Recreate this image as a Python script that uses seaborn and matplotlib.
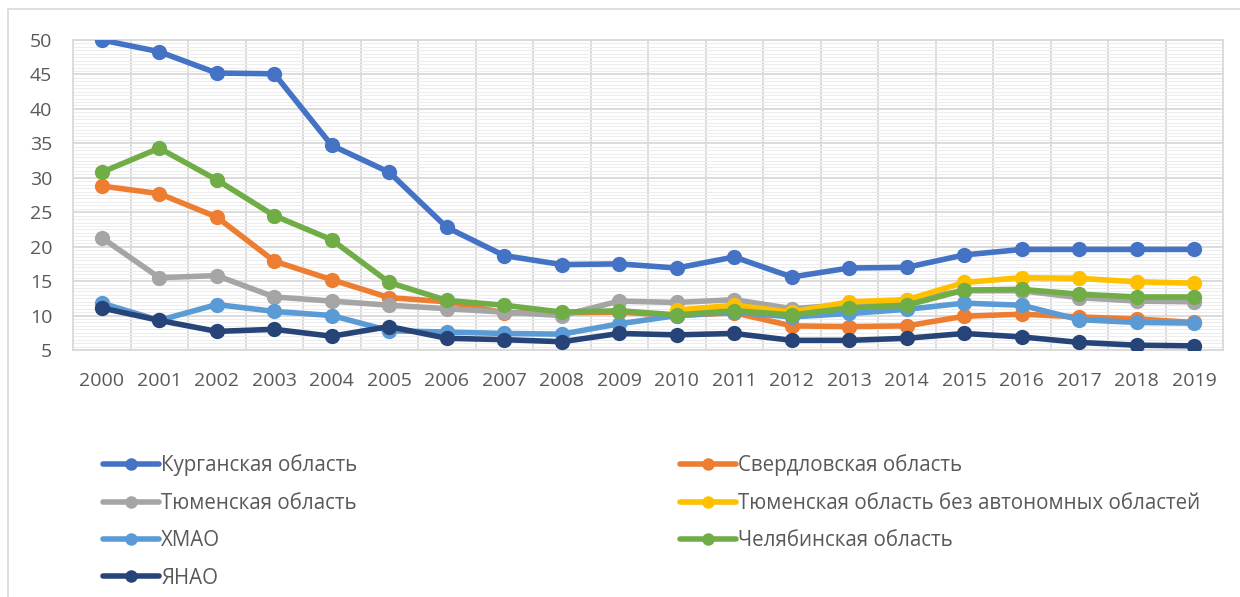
import numpy as np
import pandas as pd
import matplotlib
matplotlib.use("Agg")
import matplotlib.pyplot as plt
from matplotlib.lines import Line2D
from matplotlib.patches import Rectangle
import seaborn as sns

years = list(range(2000, 2020))

kurgan = [50.0, 48.3, 45.2, 45.1, 34.7, 30.8, 22.8, 18.7, 17.4, 17.5,
          16.9, 18.5, 15.6, 16.9, 17.0, 18.8, 19.6, 19.6, 19.6, 19.6]
sverdlovsk = [28.8, 27.7, 24.3, 17.9, 15.2, 12.6, 12.0, 10.4, 10.4, 10.5,
              10.0, 10.4, 8.5, 8.4, 8.5, 9.9, 10.2, 9.8, 9.5, 9.0]
tyumen = [21.3, 15.5, 15.8, 12.7, 12.1, 11.5, 11.0, 10.5, 10.0, 12.1,
          11.9, 12.3, 11.0, 11.6, 12.3, 13.6, 13.6, 12.6, 12.1, 12.0]
tyumen_no_ao = [np.nan] * 10 + [10.8, 11.5, 10.5, 12.0, 12.3, 14.8, 15.5, 15.4, 14.9, 14.7]
khmao = [11.8, 9.3, 11.6, 10.6, 10.0, 7.8, 7.6, 7.4, 7.3, 8.8,
         10.0, 10.5, 9.8, 10.3, 10.9, 11.8, 11.5, 9.4, 9.0, 8.9]
chelyabinsk = [30.8, 34.3, 29.7, 24.5, 21.0, 14.8, 12.2, 11.5, 10.5, 10.7,
               10.1, 10.7, 10.1, 11.1, 11.5, 13.7, 13.8, 13.1, 12.7, 12.7]
yanao = [11.1, 9.3, 7.7, 8.0, 7.0, 8.4, 6.7, 6.5, 6.2, 7.4,
         7.2, 7.4, 6.4, 6.4, 6.7, 7.4, 6.9, 6.1, 5.7, 5.6]

names = ["Курганская область", "Свердловская область", "Тюменская область",
         "Тюменская область без автономных областей", "ХМАО",
         "Челябинская область", "ЯНАО"]
series = [kurgan, sverdlovsk, tyumen, tyumen_no_ao, khmao, chelyabinsk, yanao]
colors = ["#4472C4", "#ED7D31", "#A5A5A5", "#FFC000", "#5B9BD5", "#70AD47", "#264478"]

rows = []
for name, vals in zip(names, series):
    for i, v in enumerate(vals):
        rows.append({"idx": i, "year": years[i], "value": v, "region": name})
df = pd.DataFrame(rows).dropna()

sns.set_style("white")
plt.rcParams["font.family"] = ["Open Sans", "DejaVu Sans"]
text_color = "#595959"

fig = plt.figure(figsize=(12.4, 5.97), dpi=100)
ax = fig.add_axes([73 / 1240, 1 - 350 / 597, (1223 - 73) / 1240, (350 - 40) / 597])

sns.lineplot(data=df, x="idx", y="value", hue="region", hue_order=names,
             palette=dict(zip(names, colors)), marker="o", markersize=11,
             markeredgewidth=0, linewidth=4, legend=False, ax=ax, zorder=3)

ax.set_xlim(-0.5, 19.5)
ax.set_ylim(5, 50)
ax.set_xticks(range(20))
ax.set_xticklabels([str(y) for y in years])
ax.set_yticks(range(5, 51, 5))
ax.set_yticks(np.arange(5, 50, 0.5), minor=True)
ax.set_xticks(np.arange(0.5, 19, 1), minor=True)
ax.grid(False)
ax.grid(which="minor", axis="y", color="#EDEDED", linewidth=0.8)
ax.grid(which="major", axis="y", color="#D9D9D9", linewidth=1.3)
ax.grid(which="minor", axis="x", color="#D9D9D9", linewidth=1.3)
ax.set_axisbelow(True)
for s in ax.spines.values():
    s.set_color("#D9D9D9")
    s.set_linewidth(1.3)
ax.tick_params(axis="both", which="both", length=0, labelsize=14, colors=text_color)
ax.tick_params(axis="x", pad=16)
ax.tick_params(axis="y", pad=15)
ax.set_xlabel("")
ax.set_ylabel("")

# frame of the chart area
fig.patches.append(Rectangle((8 / 1240, -0.1), 1.2, 1 - 9 / 597 + 0.1,
                             transform=fig.transFigure, fill=False,
                             edgecolor="#D9D9D9", linewidth=1.2))

handles = [Line2D([], [], color=c, linewidth=4, marker="o", markersize=9,
                  markeredgewidth=0) for c in colors]
col1 = [0, 2, 4, 6]
col2 = [1, 3, 5]
legend_kw = dict(loc="upper left", frameon=False, fontsize=14.8, labelcolor=text_color,
                 handlelength=2.7, handletextpad=0.12, labelspacing=0.8,
                 borderpad=0.2)
leg1 = fig.legend([handles[i] for i in col1], [names[i] for i in col1],
                  bbox_to_anchor=(89 / 1240, 1 - 440 / 597), **legend_kw)
leg2 = fig.legend([handles[i] for i in col2], [names[i] for i in col2],
                  bbox_to_anchor=(666 / 1240, 1 - 440 / 597), **legend_kw)

fig.savefig("out.png", dpi=100)
